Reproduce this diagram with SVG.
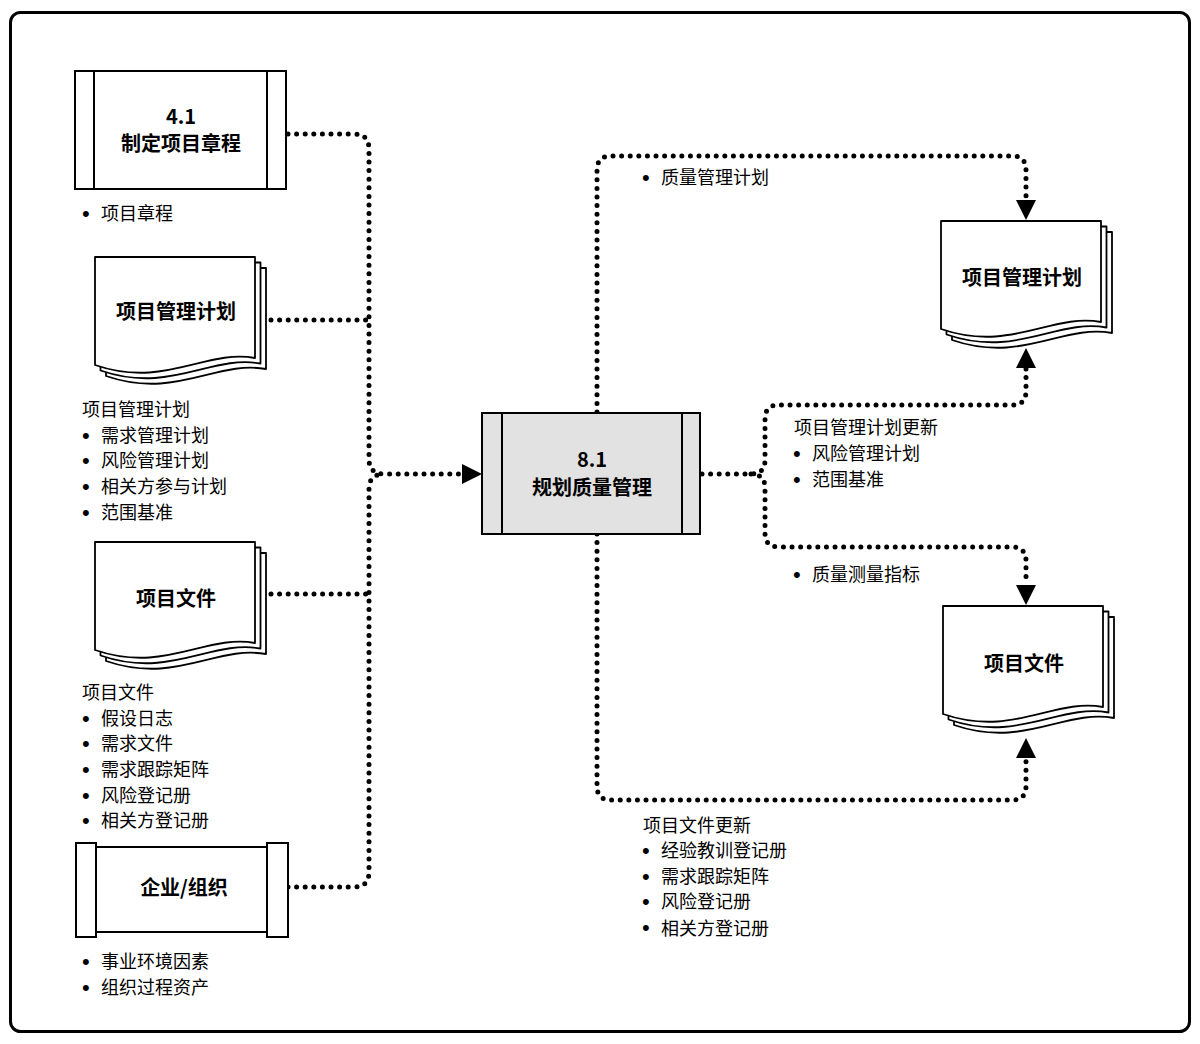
<svg xmlns="http://www.w3.org/2000/svg" width="1200" height="1044" viewBox="0 0 1200 1044">
<defs>
<style>
text{font-family:"Noto Sans CJK SC","Liberation Sans",sans-serif;fill:#000}
.lbl{font-size:18px}
.b{font-family:"Liberation Sans",sans-serif;font-size:22px}
.ttl{font-size:20px;font-weight:bold;text-anchor:middle}
.box{fill:#fff;stroke:#000;stroke-width:2}
.gbox{fill:#e2e2e2;stroke:#000;stroke-width:2}
.pg{fill:#fff;stroke:#000;stroke-width:1.8;stroke-linejoin:round}
.dot{fill:none;stroke:#000;stroke-width:5;stroke-linecap:round;stroke-dasharray:0 8.6}
.ah{fill:#000}
</style>
<g id="doc">
<path class="pg" transform="translate(11,11)" d="M0,0 H160 V101 C110,92 70,132 0,108 Z"/>
<path class="pg" transform="translate(5.5,5.5)" d="M0,0 H160 V101 C110,92 70,132 0,108 Z"/>
<path class="pg" d="M0,0 H160 V101 C110,92 70,132 0,108 Z"/>
</g>
</defs>
<rect x="0" y="0" width="1200" height="1044" fill="#fff"/>
<rect x="10.5" y="12.5" width="1179" height="1019" rx="10" fill="#fff" stroke="#000" stroke-width="3"/>

<g id="connectors">
<path class="dot" d="M288,134 H354 Q369,134 369,149 V459 Q369,474 384,474 H462"/>
<path class="dot" d="M288,887 H354 Q369,887 369,872 V489 Q369,474 384,474"/>
<path class="dot" d="M271,320 H369"/>
<path class="dot" d="M271,594 H369"/>
<polygon class="ah" points="462,464 482,474 462,484"/>
<path class="dot" d="M597,412 V170 Q597,156 611,156 H1012 Q1026,156 1026,170 V200"/>
<polygon class="ah" points="1016,200 1036,200 1026,220"/>
<path class="dot" d="M702,474 H751 Q765,474 765,460 V419 Q765,405 779,405 H1012 Q1026,405 1026,391 V368"/>
<polygon class="ah" points="1016,368 1036,368 1026,348"/>
<path class="dot" d="M751,474 Q765,474 765,488 V533 Q765,547 779,547 H1012 Q1026,547 1026,561 V585"/>
<polygon class="ah" points="1016,585 1036,585 1026,605"/>
<path class="dot" d="M597,534 V786 Q597,800 611,800 H1012 Q1026,800 1026,786 V758"/>
<polygon class="ah" points="1016,758 1036,758 1026,738"/>
</g>

<g id="node-4-1">
<rect class="box" x="75" y="71" width="211" height="118"/>
<line x1="94" y1="71" x2="94" y2="189" stroke="#000" stroke-width="2"/>
<line x1="267" y1="71" x2="267" y2="189" stroke="#000" stroke-width="2"/>
<text class="ttl" x="181" y="124">4.1</text>
<text class="ttl" x="181" y="151">制定项目章程</text>
<text class="b" x="82" y="221">•</text>
<text class="lbl" x="101" y="220">项目章程</text>
</g>

<g id="doc-pmp-in">
<use href="#doc" x="95" y="257"/>
<text class="ttl" x="176" y="319">项目管理计划</text>
<text class="lbl" x="82" y="416">项目管理计划</text>
<text class="b" x="82" y="443">•</text><text class="lbl" x="101" y="442">需求管理计划</text>
<text class="b" x="82" y="468">•</text><text class="lbl" x="101" y="467">风险管理计划</text>
<text class="b" x="82" y="494">•</text><text class="lbl" x="101" y="493">相关方参与计划</text>
<text class="b" x="82" y="520">•</text><text class="lbl" x="101" y="519">范围基准</text>
</g>

<g id="doc-pd-in">
<use href="#doc" x="95" y="542"/>
<text class="ttl" x="176" y="606">项目文件</text>
<text class="lbl" x="82" y="699">项目文件</text>
<text class="b" x="82" y="726">•</text><text class="lbl" x="101" y="725">假设日志</text>
<text class="b" x="82" y="751">•</text><text class="lbl" x="101" y="750">需求文件</text>
<text class="b" x="82" y="777">•</text><text class="lbl" x="101" y="776">需求跟踪矩阵</text>
<text class="b" x="82" y="803">•</text><text class="lbl" x="101" y="802">风险登记册</text>
<text class="b" x="82" y="828">•</text><text class="lbl" x="101" y="827">相关方登记册</text>
</g>

<g id="node-enterprise">
<rect class="box" x="94" y="847" width="175" height="85"/>
<rect class="box" x="76" y="843" width="20" height="94"/>
<rect class="box" x="267" y="843" width="21" height="94"/>
<text class="ttl" x="184" y="895">企业/组织</text>
<text class="b" x="82" y="969">•</text><text class="lbl" x="101" y="968">事业环境因素</text>
<text class="b" x="82" y="995">•</text><text class="lbl" x="101" y="994">组织过程资产</text>
</g>

<g id="node-8-1">
<rect class="gbox" x="482" y="413" width="218" height="121"/>
<line x1="502" y1="413" x2="502" y2="534" stroke="#000" stroke-width="2"/>
<line x1="682" y1="413" x2="682" y2="534" stroke="#000" stroke-width="2"/>
<text class="ttl" x="592" y="467">8.1</text>
<text class="ttl" x="592" y="495">规划质量管理</text>
</g>

<g id="doc-pmp-out">
<use href="#doc" x="941" y="221"/>
<text class="ttl" x="1022" y="285">项目管理计划</text>
</g>

<g id="doc-pd-out">
<use href="#doc" x="943" y="606"/>
<text class="ttl" x="1024" y="671">项目文件</text>
</g>

<g id="labels-out">
<text class="b" x="642" y="185">•</text><text class="lbl" x="661" y="184">质量管理计划</text>
<text class="lbl" x="794" y="434">项目管理计划更新</text>
<text class="b" x="793" y="461">•</text><text class="lbl" x="812" y="460">风险管理计划</text>
<text class="b" x="793" y="487">•</text><text class="lbl" x="812" y="486">范围基准</text>
<text class="b" x="793" y="582">•</text><text class="lbl" x="812" y="581">质量测量指标</text>
<text class="lbl" x="643" y="832">项目文件更新</text>
<text class="b" x="642" y="858">•</text><text class="lbl" x="661" y="857">经验教训登记册</text>
<text class="b" x="642" y="884">•</text><text class="lbl" x="661" y="883">需求跟踪矩阵</text>
<text class="b" x="642" y="909">•</text><text class="lbl" x="661" y="908">风险登记册</text>
<text class="b" x="642" y="935">•</text><text class="lbl" x="661" y="935">相关方登记册</text>
</g>
</svg>
